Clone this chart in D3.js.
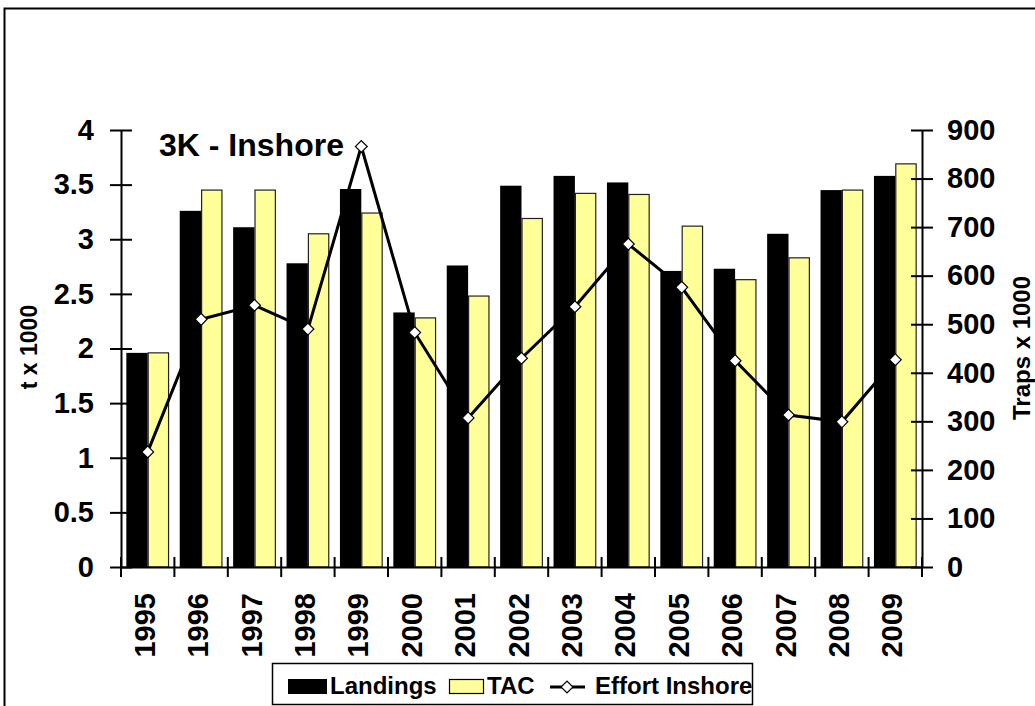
<!DOCTYPE html>
<html>
<head>
<meta charset="utf-8">
<script src="https://cdn.jsdelivr.net/npm/d3@7"></script>
<style>
  html, body { margin: 0; padding: 0; background: #fff; }
  svg { display: block; font-family: Arial, "Liberation Sans", sans-serif; font-weight: bold; }
</style>
</head>
<body>
<svg id="chart" width="1035" height="706"></svg>
<script>
// Snow crab 3K inshore: landings and TAC (t x 1000) with inshore effort (traps x 1000)
const years = ["1995","1996","1997","1998","1999","2000","2001","2002","2003","2004","2005","2006","2007","2008","2009"];
const landings = [1.96, 3.26, 3.11, 2.78, 3.46, 2.33, 2.76, 3.49, 3.58, 3.52, 2.71, 2.73, 3.05, 3.45, 3.58];
const tac      = [1.96, 3.45, 3.45, 3.05, 3.24, 2.28, 2.48, 3.19, 3.42, 3.41, 3.12, 2.63, 2.83, 3.45, 3.69];
const effort   = [237, 510, 539, 490, 866, 483, 307, 430, 536, 665, 576, 425, 313, 299, 427];
const leftTicks  = [0, 0.5, 1, 1.5, 2, 2.5, 3, 3.5, 4];
const rightTicks = [0, 100, 200, 300, 400, 500, 600, 700, 800, 900];
const seriesNames = ["Landings", "TAC"];

const svg = d3.select("#chart");
const plot = { left: 121, right: 922, top: 130, bottom: 567 };

// outer chart frame
svg.append("rect")
  .attr("x", 4.5).attr("y", 8.5).attr("width", 1100).attr("height", 800)
  .attr("fill", "none").attr("stroke", "#000").attr("stroke-width", 2);

const x = d3.scaleBand().domain(years).range([plot.left, plot.right]).padding(0);
const x1 = d3.scaleBand().domain(seriesNames).range([0, x.bandwidth()]).paddingInner(0).paddingOuter(0.25);
const yL = d3.scaleLinear().domain([0, 4]).range([plot.bottom, plot.top]);
const yR = d3.scaleLinear().domain([0, 900]).range([plot.bottom, plot.top]);

// bars
const rows = years.map((yr, i) => ({ year: yr, Landings: landings[i], TAC: tac[i] }));
const groups = svg.append("g").selectAll("g").data(rows).join("g")
  .attr("transform", d => `translate(${x(d.year)},0)`);
groups.append("rect")
  .attr("x", x1("Landings")).attr("width", x1.bandwidth())
  .attr("y", d => yL(d.Landings)).attr("height", d => yL(0) - yL(d.Landings))
  .attr("fill", "#000");
groups.append("rect")
  .attr("x", x1("TAC") + 0.5).attr("width", x1.bandwidth() - 1)
  .attr("y", d => yL(d.TAC)).attr("height", d => yL(0) - yL(d.TAC))
  .attr("fill", "#FFFF99").attr("stroke", "#222").attr("stroke-width", 1.2);

const fontFam = "Arial, 'Liberation Sans', sans-serif";

// left axis
const axL = svg.append("g").attr("transform", `translate(${plot.left},0)`)
  .call(d3.axisLeft(yL).tickValues(leftTicks).tickSize(0).tickPadding(27).tickFormat(d3.format("")));
axL.select(".domain").attr("stroke", "#000").attr("stroke-width", 2);
axL.selectAll(".tick").append("line").attr("x1", -11).attr("x2", 11).attr("stroke", "#000").attr("stroke-width", 2);
axL.selectAll(".tick text").attr("font-size", 29).attr("font-weight", "bold").attr("fill", "#000")
  .attr("font-family", fontFam);

// right axis
const axR = svg.append("g").attr("transform", `translate(${plot.right},0)`)
  .call(d3.axisRight(yR).tickValues(rightTicks).tickSize(0).tickPadding(25));
axR.select(".domain").attr("stroke", "#000").attr("stroke-width", 2);
axR.selectAll(".tick").append("line").attr("x1", -11).attr("x2", 11).attr("stroke", "#000").attr("stroke-width", 2);
axR.selectAll(".tick text").attr("font-size", 29).attr("font-weight", "bold").attr("fill", "#000")
  .attr("font-family", fontFam);

// bottom axis with year labels
const axB = svg.append("g").attr("transform", `translate(0,${plot.bottom})`)
  .call(d3.axisBottom(x).tickSize(0));
axB.select(".domain").attr("stroke", "#000").attr("stroke-width", 2);
axB.selectAll(".tick text")
  .attr("font-size", 29).attr("font-weight", "bold").attr("fill", "#000")
  .attr("font-family", fontFam)
  .attr("transform", "rotate(-90)")
  .attr("text-anchor", "end")
  .attr("x", -26).attr("y", 7).attr("dy", 0);
// category boundary ticks
const bounds = d3.range(years.length + 1).map(i => plot.left + i * x.step());
axB.append("g").selectAll("line").data(bounds).join("line")
  .attr("x1", d => d).attr("x2", d => d).attr("y1", -10).attr("y2", 10)
  .attr("stroke", "#000").attr("stroke-width", 2);

// effort line with square-diamond markers
const cx = (yr) => x(yr) + x.bandwidth() / 2;
const line = d3.line().x((d, i) => cx(years[i])).y(d => yR(d));
svg.append("path").datum(effort).attr("d", line)
  .attr("fill", "none").attr("stroke", "#000").attr("stroke-width", 3).attr("stroke-linejoin", "miter");
const marker = d3.symbol().type(d3.symbolSquare).size(70);
svg.append("g").selectAll("path").data(effort).join("path")
  .attr("d", marker)
  .attr("transform", (d, i) => `translate(${cx(years[i])},${yR(d)}) rotate(45)`)
  .attr("fill", "#fff").attr("stroke", "#000").attr("stroke-width", 1.2);

// title and axis titles
svg.append("text").attr("x", 159).attr("y", 156).attr("font-size", 32).text("3K - Inshore");
svg.append("text").attr("transform", "translate(37,347) rotate(-90)").attr("text-anchor", "middle")
  .attr("font-size", 23).text("t x 1000");
svg.append("text").attr("transform", "translate(1030,348) rotate(-90)").attr("text-anchor", "middle")
  .attr("font-size", 24).text("Traps x 1000");

// legend
const lg = svg.append("g");
lg.append("rect").attr("x", 272.5).attr("y", 663.5).attr("width", 480).attr("height", 41)
  .attr("fill", "#fff").attr("stroke", "#000").attr("stroke-width", 1.5);
lg.append("rect").attr("x", 288).attr("y", 679).attr("width", 39).attr("height", 15).attr("fill", "#000");
lg.append("text").attr("x", 330).attr("y", 694).attr("font-size", 24).text("Landings");
lg.append("rect").attr("x", 449.5).attr("y", 679.5).attr("width", 34).attr("height", 14)
  .attr("fill", "#FFFF99").attr("stroke", "#000").attr("stroke-width", 1.2);
lg.append("text").attr("x", 487).attr("y", 694).attr("font-size", 24).text("TAC");
lg.append("line").attr("x1", 550).attr("x2", 585).attr("y1", 687).attr("y2", 687)
  .attr("stroke", "#000").attr("stroke-width", 3);
lg.append("path").attr("d", marker).attr("transform", "translate(567,687) rotate(45)")
  .attr("fill", "#fff").attr("stroke", "#000").attr("stroke-width", 1.2);
lg.append("text").attr("x", 595).attr("y", 694).attr("font-size", 24).text("Effort Inshore");
</script>
</body>
</html>
